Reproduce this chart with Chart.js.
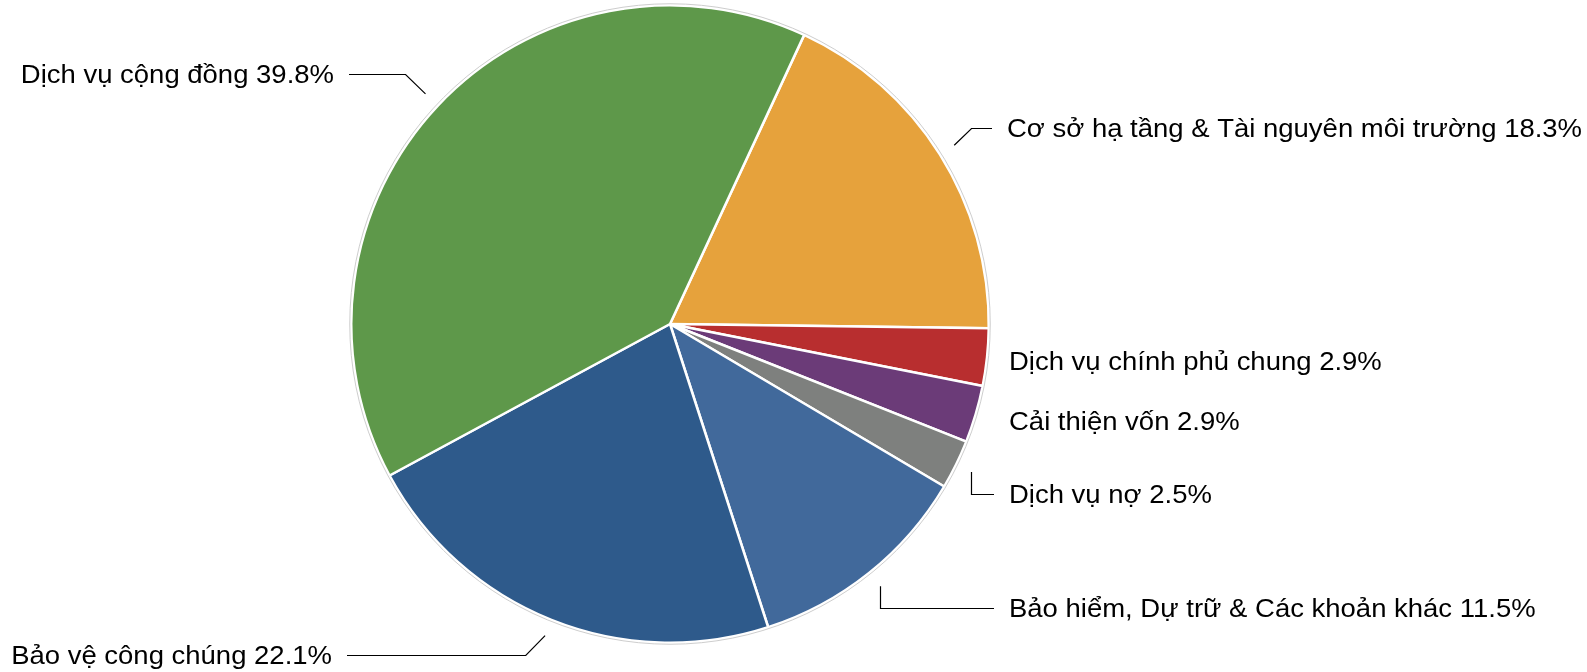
<!DOCTYPE html>
<html>
<head>
<meta charset="utf-8">
<script src="https://cdn.jsdelivr.net/npm/chart.js@4"></script>
<style>
  body { margin: 0; background: #fff; }
  canvas { display: block; }
</style>
</head>
<body>
<canvas id="pie" width="1587" height="672"></canvas>
<script>
// du lieu (phan tram), theo chieu kim dong ho bat dau tu lat cam
const categories = [
  "Cơ sở hạ tầng & Tài nguyên môi trường",
  "Dịch vụ chính phủ chung",
  "Cải thiện vốn",
  "Dịch vụ nợ",
  "Bảo hiểm, Dự trữ & Các khoản khác",
  "Bảo vệ công chúng",
  "Dịch vụ cộng đồng",
];
const shares = [18.3, 2.9, 2.9, 2.5, 11.5, 22.1, 39.8];
const colors = ["#E6A23C", "#B82E2F", "#6B3B78", "#7E807E", "#41699B", "#2E5A8B", "#5E984A"];

// vi tri nhan (bo cuc)
const labelX = [1007, 1009, 1009, 1009, 1009, 332, 334];
const labelY = [128, 361, 421, 494, 608, 655, 74];
const labelSide = ["left", "left", "left", "left", "left", "right", "right"];
const leaderType = ["diag", "none", "none", "vert", "vert", "diag", "diag"];

const fontSize = 26;
const stretch = 1.057;

const labelPlugin = {
  id: "sliceLabels",
  afterDatasetsDraw(chart) {
    const ctx = chart.ctx;
    const meta = chart.getDatasetMeta(0);
    ctx.save();
    // vien xam mo ben ngoai
    const a0 = meta.data[0].getProps(["x", "y", "outerRadius"]);
    ctx.beginPath();
    ctx.arc(a0.x, a0.y, a0.outerRadius + 1.5, 0, Math.PI * 2);
    ctx.strokeStyle = "rgba(200,200,200,0.9)";
    ctx.lineWidth = 1;
    ctx.stroke();

    meta.data.forEach((arc, i) => {
      const p = arc.getProps(["x", "y", "startAngle", "endAngle", "outerRadius"]);
      const mid = (p.startAngle + p.endAngle) / 2;
      const tx = labelX[i], ty = labelY[i];
      const right = labelSide[i] === "left"; // chu o ben phai banh
      if (leaderType[i] !== "none") {
        const ax = p.x + (p.outerRadius + 17) * Math.cos(mid);
        const ay = p.y + (p.outerRadius + 17) * Math.sin(mid);
        let ex = ax;
        if (leaderType[i] === "diag") ex = ax + (right ? 1 : -1) * Math.abs(ty - ay);
        const hx = right ? tx - 15 : tx + 15;
        const ly = Math.round(ty) + 0.5;
        ctx.beginPath();
        ctx.moveTo(leaderType[i] === "vert" ? Math.round(ax) + 0.5 : ax, ay);
        ctx.lineTo(leaderType[i] === "vert" ? Math.round(ex) + 0.5 : ex, ly);
        ctx.lineTo(hx, ly);
        ctx.strokeStyle = "#000";
        ctx.lineWidth = 1.2;
        ctx.stroke();
      }
      const text = categories[i] + " " + shares[i].toFixed(1) + "%";
      ctx.font = fontSize + "px 'Liberation Sans', Arial, sans-serif";
      ctx.fillStyle = "#000";
      ctx.textBaseline = "alphabetic";
      ctx.textAlign = labelSide[i];
      ctx.save();
      ctx.translate(tx, ty + 0.358 * fontSize);
      ctx.scale(stretch, 1);
      ctx.fillText(text, 0, 0);
      ctx.restore();
    });
    ctx.restore();
  },
};

const data = {
  labels: categories,
  datasets: [
    {
      data: shares,
      backgroundColor: colors,
      borderColor: "#fff",
      borderWidth: 2.5,
    },
  ],
};

const config = {
  type: "pie",
  data: data,
  options: {
    responsive: false,
    animation: false,
    rotation: 24.9,
    layout: { padding: { left: 350, right: 597, top: 4, bottom: 28 } },
    plugins: {
      legend: { display: false },
      tooltip: { enabled: false },
    },
  },
  plugins: [labelPlugin],
};

const canvas = document.getElementById("pie");
new Chart(canvas, config);
</script>
</body>
</html>
